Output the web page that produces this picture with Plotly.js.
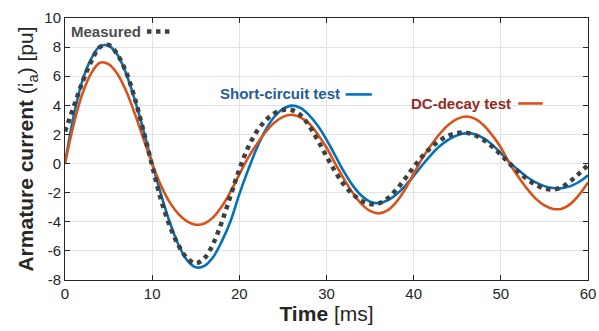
<!DOCTYPE html>
<html>
<head>
<meta charset="utf-8">
<script src="https://cdn.plot.ly/plotly-3.0.1.min.js"></script>
<style>html,body{margin:0;padding:0;background:#fff;}#chart{width:599px;height:331px;}</style>
</head>
<body>
<div id="chart"></div>
<script>
// Time axis (ms)
var timeMs = [0,1,2,3,4,5,6,7,8,9,10,11,12,13,14,15,16,17,18,19,20,21,22,23,24,25,26,27,28,29,30,31,32,33,34,35,36,37,38,39,40,41,42,43,44,45,46,47,48,49,50,51,52,53,54,55,56,57,58,59,60];

// Measured armature current (pu)
var measured = [2.2,3.9,5.6,7.0,8.0,8.15,7.5,6.3,4.5,2.25,-0.15,-2.45,-4.25,-5.6,-6.5,-6.85,-6.5,-5.5,-4.0,-2.2,-0.4,1.1,2.2,2.95,3.45,3.68,3.68,3.34,2.6,1.6,0.5,-0.55,-1.45,-2.1,-2.55,-2.78,-2.74,-2.4,-1.8,-1.05,-0.25,0.5,1.1,1.58,1.92,2.1,2.12,1.96,1.63,1.17,0.61,0.0,-0.56,-1.06,-1.46,-1.71,-1.78,-1.62,-1.2,-0.67,-0.1];

// Short-circuit test model (pu)
var shortCircuit = [0,3.3,5.7,7.2,8.05,8.1,7.5,6.2,4.4,2.3,0.0,-2.09,-4.0,-5.56,-6.64,-7.13,-7.03,-6.42,-5.33,-3.95,-2.1,-0.45,1.05,2.3,3.2,3.75,3.98,3.82,3.33,2.6,1.65,0.55,-0.55,-1.5,-2.2,-2.62,-2.72,-2.53,-2.12,-1.55,-0.85,-0.1,0.6,1.2,1.65,1.95,2.09,2.02,1.74,1.3,0.72,0.1,-0.45,-0.92,-1.29,-1.55,-1.68,-1.69,-1.55,-1.25,-0.8];

// DC-decay test model (pu)
var dcDecay = [0,2.7,4.8,6.2,6.93,6.83,6.17,5.0,3.45,1.7,0.0,-1.5,-2.65,-3.45,-3.97,-4.2,-4.12,-3.7,-2.94,-1.93,-0.75,0.39,1.33,2.15,2.8,3.21,3.35,3.17,2.75,2.0,1.1,0.0,-1.06,-2.01,-2.77,-3.25,-3.42,-3.22,-2.65,-1.78,-0.7,0.37,1.26,2.05,2.67,3.07,3.23,3.09,2.65,1.95,1.1,0.0,-0.9,-1.72,-2.41,-2.88,-3.12,-3.1,-2.77,-2.14,-1.3];

var xTicks = [0,10,20,30,40,50,60];
var yTicks = [-8,-6,-4,-2,0,2,4,6,8,10];

var labels = {measured: 'Measured', sc: 'Short-circuit test', dc: 'DC-decay test'};

var cBlue = '#0072BD', cOrange = '#D95319', cGray = '#404040';
var fontFam = 'Liberation Sans, Arial, Helvetica, sans-serif';

var traces = [
  {x: timeMs, y: shortCircuit, mode: 'lines', line: {color: cBlue, width: 2.6, shape: 'spline', smoothing: 1}, name: labels.sc, hoverinfo: 'skip'},
  {x: timeMs, y: dcDecay, mode: 'lines', line: {color: cOrange, width: 2.6, shape: 'spline', smoothing: 1}, name: labels.dc, hoverinfo: 'skip'},
  {x: timeMs, y: measured, mode: 'lines', line: {color: cGray, width: 4.5, dash: 'dot', shape: 'spline', smoothing: 1}, name: labels.measured, hoverinfo: 'skip'}
];

var axisCommon = {
  showline: true, mirror: 'ticks', linecolor: '#262626', linewidth: 1,
  ticks: 'inside', ticklen: 5, tickcolor: '#262626', tickwidth: 1,
  showgrid: true, gridcolor: '#e3e3e3', gridwidth: 1, zeroline: false,
  tickfont: {family: fontFam, size: 15, color: '#262626'}
};

var layout = {
  width: 599, height: 331,
  margin: {l: 65, r: 11, t: 18, b: 51},
  paper_bgcolor: '#ffffff', plot_bgcolor: '#ffffff',
  showlegend: false,
  xaxis: Object.assign({}, axisCommon, {
    range: [0, 60], tickvals: xTicks, ticktext: xTicks.map(String),
    title: {text: '<b>Time</b> [ms]', font: {family: fontFam, size: 21, color: '#262626'}, standoff: 3}
  }),
  yaxis: Object.assign({}, axisCommon, {
    range: [-8, 10], tickvals: yTicks, ticktext: yTicks.map(String),
    title: {text: '<b>Armature current</b> (i<sub>a</sub>) [pu]', font: {family: fontFam, size: 21, color: '#262626'}, standoff: 4}
  }),
  annotations: [
    {x: 8.95, y: 9.08, xref: 'x', yref: 'y', xanchor: 'right', yanchor: 'middle', showarrow: false,
     text: '<b>' + labels.measured + '</b>', font: {family: fontFam, size: 15, color: '#4d4d4d'}},
    {x: 31.75, y: 4.78, xref: 'x', yref: 'y', xanchor: 'right', yanchor: 'middle', showarrow: false,
     text: '<b>' + labels.sc + '</b>', font: {family: fontFam, size: 15, color: '#1f5d99'}},
    {x: 51.45, y: 4.16, xref: 'x', yref: 'y', xanchor: 'right', yanchor: 'middle', showarrow: false,
     text: '<b>' + labels.dc + '</b>', font: {family: fontFam, size: 15, color: '#952a1e'}}
  ],
  shapes: [
    {type: 'line', xref: 'x', yref: 'y', x0: 9.4, x1: 12.3, y0: 9.08, y1: 9.08, line: {color: cGray, width: 4.5, dash: 'dot'}},
    {type: 'line', xref: 'x', yref: 'y', x0: 32.2, x1: 35.2, y0: 4.75, y1: 4.75, line: {color: cBlue, width: 2.6}},
    {type: 'line', xref: 'x', yref: 'y', x0: 52.0, x1: 54.8, y0: 4.13, y1: 4.13, line: {color: cOrange, width: 2.6}}
  ]
};

Plotly.newPlot('chart', traces, layout, {staticPlot: true, displayModeBar: false});
</script>
</body>
</html>
